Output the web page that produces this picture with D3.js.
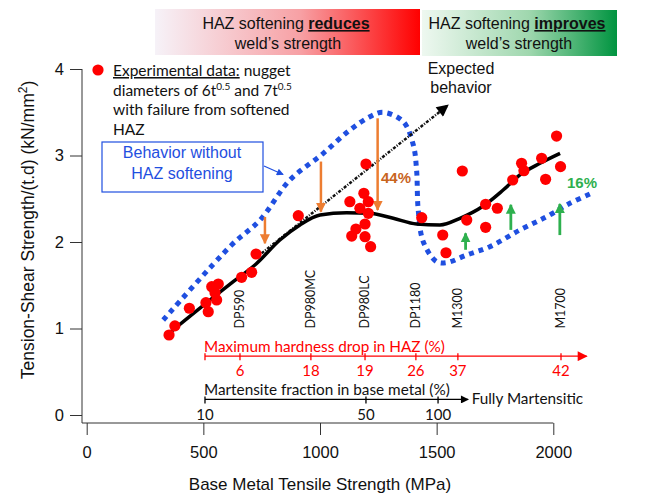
<!DOCTYPE html>
<meta charset="utf-8">
<style>
  body { margin: 0; background: #fff; }
  text { font-family: "Liberation Sans", Arial, sans-serif; }
  .calib { font-family: Lato, "Open Sans", sans-serif; }
</style>
<script src="https://d3js.org/d3.v7.min.js"></script>
<svg id="chart" width="652" height="496"></svg>
<script>

// experimental points: base metal tensile strength (MPa) vs normalised TSS
var strengthMPa = [353, 378, 440, 511, 521, 536, 564, 550, 557, 664, 707, 726,
                   907, 1197, 1128, 1188, 1207, 1171, 1207, 1193, 1154, 1136, 1193, 1217,
                   1436, 1526, 1540, 1610, 1629, 1710, 1710, 1760, 1826, 1864, 1874, 1950, 1967, 2014, 2031];
var tssNorm = [0.925, 1.03, 1.234, 1.298, 1.194, 1.483, 1.514, 1.414, 1.33, 1.592, 1.65, 1.861,
               2.304, 2.902, 2.466, 2.563, 2.466, 2.39, 2.332, 2.208, 2.15, 2.069, 2.061, 1.946,
               2.281, 2.081, 1.876, 2.821, 2.254, 2.17, 2.436, 2.39, 2.717, 2.91, 2.824, 2.968, 2.725, 3.225, 2.871];

// fitted trend (black)
var fitX = [335, 628, 726, 828, 914, 1000, 1114, 1214, 1314, 1414, 1514, 1600, 1700, 1785, 1857, 1943, 2029];
var fitY = [0.905, 1.541, 1.746, 2.023, 2.197, 2.312, 2.339, 2.332, 2.274, 2.208, 2.197, 2.274, 2.416, 2.601, 2.775, 2.91, 3.025];

// behaviour without HAZ softening (blue dotted)
var noSoftX = [328, 621, 743, 871, 1014, 1128, 1214, 1271, 1357, 1400, 1414, 1421, 1443, 1500, 1543, 1629, 1728, 1857, 1971, 2071, 2164];
var noSoftY = [1.098, 1.965, 2.254, 2.717, 3.025, 3.295, 3.449, 3.499, 3.391, 3.121, 2.832, 2.37, 2.0, 1.772, 1.761, 1.85, 1.946, 2.139, 2.292, 2.447, 2.563];

// expected behaviour (dash-dot)
var expX = [750, 1548];
var expY = [1.87, 3.58];

// strength loss / gain arrows
var lossX = [764, 1004, 1247];
var lossFrom = [2.29, 2.93, 3.43];
var lossTo = [1.985, 2.35, 2.37];
var gainX = [1624, 1818, 2028];
var gainFrom = [1.91, 2.14, 2.08];
var gainTo = [2.10, 2.43, 2.44];

// steel grades and the secondary scales
var grades = ["DP590", "DP980MC", "DP980LC", "DP1180", "M1300", "M1700"];
var gradeX = [657, 961, 1193, 1411, 1591, 2033];
var hardnessDrop = [6, 18, 19, 26, 37, 42];
var martLabels = [10, 50, 100];
var martX = [507, 1197, 1506];

var xTicks = [0, 500, 1000, 1500, 2000];
var yTicks = [0, 1, 2, 3, 4];

var svg = d3.select("#chart");

var x = d3.scaleLinear().domain([0, 2000]).range([86.7, 553.3]);
var y = d3.scaleLinear().domain([0, 4]).range([415, 69]);

var defs = svg.append("defs");

var gR = defs.append("linearGradient").attr("id", "gRed");
gR.append("stop").attr("offset", "0%").attr("stop-color", "#f6f2f8");
gR.append("stop").attr("offset", "55%").attr("stop-color", "#f7a0a4");
gR.append("stop").attr("offset", "100%").attr("stop-color", "#ff0000");
var gG = defs.append("linearGradient").attr("id", "gGreen");
gG.append("stop").attr("offset", "0%").attr("stop-color", "#eef8f0");
gG.append("stop").attr("offset", "55%").attr("stop-color", "#9fd7ae");
gG.append("stop").attr("offset", "100%").attr("stop-color", "#009440");

function arrowMarker(id, color, w, h) {
  defs.append("marker")
    .attr("id", id)
    .attr("viewBox", "0 -5 10 10")
    .attr("refX", 9).attr("refY", 0)
    .attr("markerUnits", "userSpaceOnUse")
    .attr("markerWidth", w).attr("markerHeight", h)
    .attr("orient", "auto")
    .append("path").attr("d", "M0,-5L10,0L0,5Z").attr("fill", color);
}
arrowMarker("aOrange", "#ed7d31", 10, 10);
arrowMarker("aGreen", "#2eb04e", 10, 11);
arrowMarker("aBlack", "#000", 16, 12);
arrowMarker("aRed", "#ff0000", 12, 10);
arrowMarker("aBlk2", "#000", 10, 8);
arrowMarker("aBlue", "#1f4fe0", 8, 7);

// banners
svg.append("rect").attr("x", 155).attr("y", 9).attr("width", 265).attr("height", 46).attr("fill", "url(#gRed)");
svg.append("rect").attr("x", 422).attr("y", 10).attr("width", 195).attr("height", 46).attr("fill", "url(#gGreen)");

function banner(cx, word) {
  var t = svg.append("text").attr("x", cx).attr("y", 29).attr("text-anchor", "middle")
    .attr("font-size", 16).attr("fill", "#111");
  t.append("tspan").text("HAZ softening ");
  t.append("tspan").attr("font-weight", "bold").attr("text-decoration", "underline").text(word);
  svg.append("text").attr("x", cx + 2).attr("y", 49).attr("text-anchor", "middle")
    .attr("font-size", 16).attr("fill", "#111").text("weld\u2019s strength");
}
banner(286, "reduces");
banner(517, "improves");

// axes
var xAxis = svg.append("g").attr("transform", "translate(0,423)")
  .call(d3.axisBottom(x).tickValues(xTicks).tickFormat(d3.format("d"))
    .tickSize(12).tickSizeOuter(0).tickPadding(11));
xAxis.select(".domain").remove();
xAxis.selectAll("text").attr("font-size", 16.5).attr("font-family", "Liberation Sans").attr("fill", "#111");
xAxis.selectAll("line").attr("stroke", "#333");

var yAxis = svg.append("g").attr("transform", "translate(82,0)")
  .call(d3.axisLeft(y).tickValues(yTicks).tickFormat(d3.format("d"))
    .tickSize(12).tickSizeOuter(0).tickPadding(6));
yAxis.select(".domain").remove();
yAxis.selectAll("text").attr("font-size", 16.5).attr("font-family", "Liberation Sans").attr("fill", "#111");
yAxis.selectAll("line").attr("stroke", "#333");

svg.append("path").attr("d", "M82," + y(4) + "V423H" + x(2000))
  .attr("fill", "none").attr("stroke", "#333").attr("stroke-width", 1);

svg.append("text").attr("x", x(1000)).attr("y", 490).attr("text-anchor", "middle")
  .attr("font-size", 17).attr("fill", "#111").text("Base Metal Tensile Strength (MPa)");

var yt = svg.append("text").attr("transform", "translate(34,230) rotate(-90)")
  .attr("text-anchor", "middle").attr("font-size", 17.5).attr("fill", "#111");
yt.append("tspan").text("Tension-Shear Strength/(t.d) (kN/mm");
yt.append("tspan").attr("font-size", 12).attr("dy", -7).text("2");
yt.append("tspan").attr("dy", 7).text(")");

// grade labels
svg.selectAll(".grade").data(grades).enter().append("text")
  .attr("class", "calib")
  .attr("transform", function(d, i) { return "translate(" + (x(gradeX[i]) + 4) + "," + y(1.0) + ") rotate(-90)"; })
  .attr("font-size", 12.5).attr("fill", "#111").text(function(d) { return d; });

// hardness drop scale (red)
var hy = y(0.68);
svg.append("line").attr("x1", x(martX[0])).attr("x2", x(2143)).attr("y1", hy).attr("y2", hy)
  .attr("stroke", "#ff0000").attr("stroke-width", 1.3).attr("marker-end", "url(#aRed)");
svg.append("line").attr("x1", x(martX[0])).attr("x2", x(martX[0])).attr("y1", hy - 3).attr("y2", hy + 4)
  .attr("stroke", "#ff0000").attr("stroke-width", 1.3);
svg.selectAll(".hTick").data(hardnessDrop).enter().append("line")
  .attr("x1", function(d, i) { return x(gradeX[i]); }).attr("x2", function(d, i) { return x(gradeX[i]); })
  .attr("y1", hy - 3).attr("y2", hy + 4).attr("stroke", "#ff0000").attr("stroke-width", 1.3);
svg.selectAll(".hLab").data(hardnessDrop).enter().append("text")
  .attr("class", "calib").attr("x", function(d, i) { return x(gradeX[i]); }).attr("y", hy + 20)
  .attr("text-anchor", "middle").attr("font-size", 15).attr("fill", "#ff0000").text(function(d) { return d; });
svg.append("text").attr("class", "calib").attr("x", x(martX[0]) - 1).attr("y", hy - 4)
  .attr("font-size", 15.3).attr("fill", "#ff0000").text("Maximum hardness drop in HAZ (%)");

// martensite fraction scale (black)
var my = y(0.18);
svg.append("line").attr("x1", x(martX[0])).attr("x2", x(1635)).attr("y1", my).attr("y2", my)
  .attr("stroke", "#000").attr("stroke-width", 1.3).attr("marker-end", "url(#aBlk2)");
svg.selectAll(".mTick").data(martLabels).enter().append("line")
  .attr("x1", function(d, i) { return x(martX[i]); }).attr("x2", function(d, i) { return x(martX[i]); })
  .attr("y1", my - 3).attr("y2", my + 4).attr("stroke", "#000").attr("stroke-width", 1.3);
svg.selectAll(".mLab").data(martLabels).enter().append("text")
  .attr("class", "calib").attr("x", function(d, i) { return x(martX[i]); }).attr("y", my + 21)
  .attr("text-anchor", "middle").attr("font-size", 15).attr("fill", "#111").text(function(d) { return d; });
svg.append("text").attr("class", "calib").attr("x", x(martX[0]) - 1).attr("y", my - 4)
  .attr("font-size", 15.3).attr("fill", "#111").text("Martensite fraction in base metal (%)");
svg.append("text").attr("class", "calib").attr("x", x(1650)).attr("y", my + 5)
  .attr("font-size", 15.3).attr("fill", "#111").text("Fully Martensitic");

// blue dotted: without HAZ softening
var line = d3.line().curve(d3.curveCatmullRom.alpha(0.5));
svg.append("path")
  .attr("d", line(noSoftX.map(function(v, i) { return [x(v), y(noSoftY[i])]; })))
  .attr("fill", "none").attr("stroke", "#1f4fe0").attr("stroke-width", 5)
  .attr("stroke-dasharray", "5,5");

// expected behaviour dash-dot
svg.append("line").attr("x1", x(expX[0])).attr("y1", y(expY[0]))
  .attr("x2", x(expX[1])).attr("y2", y(expY[1]))
  .attr("stroke", "#111").attr("stroke-width", 2.5).attr("stroke-dasharray", "3,1.5,1,1.5")
  .attr("marker-end", "url(#aBlack)");

// orange arrows (loss)
svg.selectAll(".loss").data(lossX).enter().append("line")
  .attr("x1", function(d) { return x(d); }).attr("x2", function(d) { return x(d); })
  .attr("y1", function(d, i) { return y(lossFrom[i]); }).attr("y2", function(d, i) { return y(lossTo[i]); })
  .attr("stroke", "#ed7d31").attr("stroke-width", 2.5).attr("marker-end", "url(#aOrange)");

// black fit curve
var line2 = d3.line().curve(d3.curveMonotoneX);
svg.append("path")
  .attr("d", line2(fitX.map(function(v, i) { return [x(v), y(fitY[i])]; })))
  .attr("fill", "none").attr("stroke", "#000").attr("stroke-width", 3.5);

// experimental points
svg.selectAll(".pt").data(strengthMPa).enter().append("circle")
  .attr("cx", function(d) { return x(d); })
  .attr("cy", function(d, i) { return y(tssNorm[i]); })
  .attr("r", 5.6).attr("fill", "#ff0000");

// green arrows (gain)
svg.selectAll(".gain").data(gainX).enter().append("line")
  .attr("x1", function(d) { return x(d); }).attr("x2", function(d) { return x(d); })
  .attr("y1", function(d, i) { return y(gainFrom[i]); }).attr("y2", function(d, i) { return y(gainTo[i]); })
  .attr("stroke", "#2eb04e").attr("stroke-width", 2.8).attr("marker-end", "url(#aGreen)");

svg.append("text").attr("x", 396).attr("y", 183).attr("text-anchor", "middle")
  .attr("font-size", 15).attr("font-weight", "bold").attr("fill", "#c8641e").text("44%");
svg.append("text").attr("x", 582).attr("y", 188).attr("text-anchor", "middle")
  .attr("font-size", 15).attr("font-weight", "bold").attr("fill", "#2eb04e").text("16%");

// legend
svg.append("circle").attr("cx", 98).attr("cy", 70).attr("r", 5.6).attr("fill", "#ff0000");
var lg = svg.append("text").attr("class", "calib").attr("x", 113).attr("y", 76)
  .attr("font-size", 15.5).attr("fill", "#111");
lg.append("tspan").attr("text-decoration", "underline").text("Experimental data:");
lg.append("tspan").text(" nugget");
var l2 = svg.append("text").attr("class", "calib").attr("x", 113).attr("y", 96)
  .attr("font-size", 15.5).attr("fill", "#111");
l2.append("tspan").text("diameters of 6t");
l2.append("tspan").attr("font-size", 10).attr("dy", -6).text("0.5");
l2.append("tspan").attr("dy", 6).text(" and 7t");
l2.append("tspan").attr("font-size", 10).attr("dy", -6).text("0.5");
svg.append("text").attr("class", "calib").attr("x", 113).attr("y", 115)
  .attr("font-size", 15.5).attr("fill", "#111").text("with failure from softened");
svg.append("text").attr("class", "calib").attr("x", 113).attr("y", 135)
  .attr("font-size", 15.5).attr("fill", "#111").text("HAZ");

// callout box
svg.append("rect").attr("x", 102).attr("y", 142).attr("width", 161).attr("height", 50)
  .attr("fill", "#fff").attr("stroke", "#1f4fe0").attr("stroke-width", 1.2);
svg.append("text").attr("x", 182).attr("y", 158).attr("text-anchor", "middle")
  .attr("font-size", 16).attr("fill", "#1f4fe0").text("Behavior without");
svg.append("text").attr("x", 182).attr("y", 179).attr("text-anchor", "middle")
  .attr("font-size", 16).attr("fill", "#1f4fe0").text("HAZ softening");
svg.append("line").attr("x1", 264).attr("y1", 166).attr("x2", x(842)).attr("y2", y(2.78))
  .attr("stroke", "#1f4fe0").attr("stroke-width", 1.2).attr("marker-end", "url(#aBlue)");

svg.append("text").attr("x", 461).attr("y", 74).attr("text-anchor", "middle")
  .attr("font-size", 16).attr("fill", "#111").text("Expected");
svg.append("text").attr("x", 461).attr("y", 93).attr("text-anchor", "middle")
  .attr("font-size", 16).attr("fill", "#111").text("behavior");

</script>
